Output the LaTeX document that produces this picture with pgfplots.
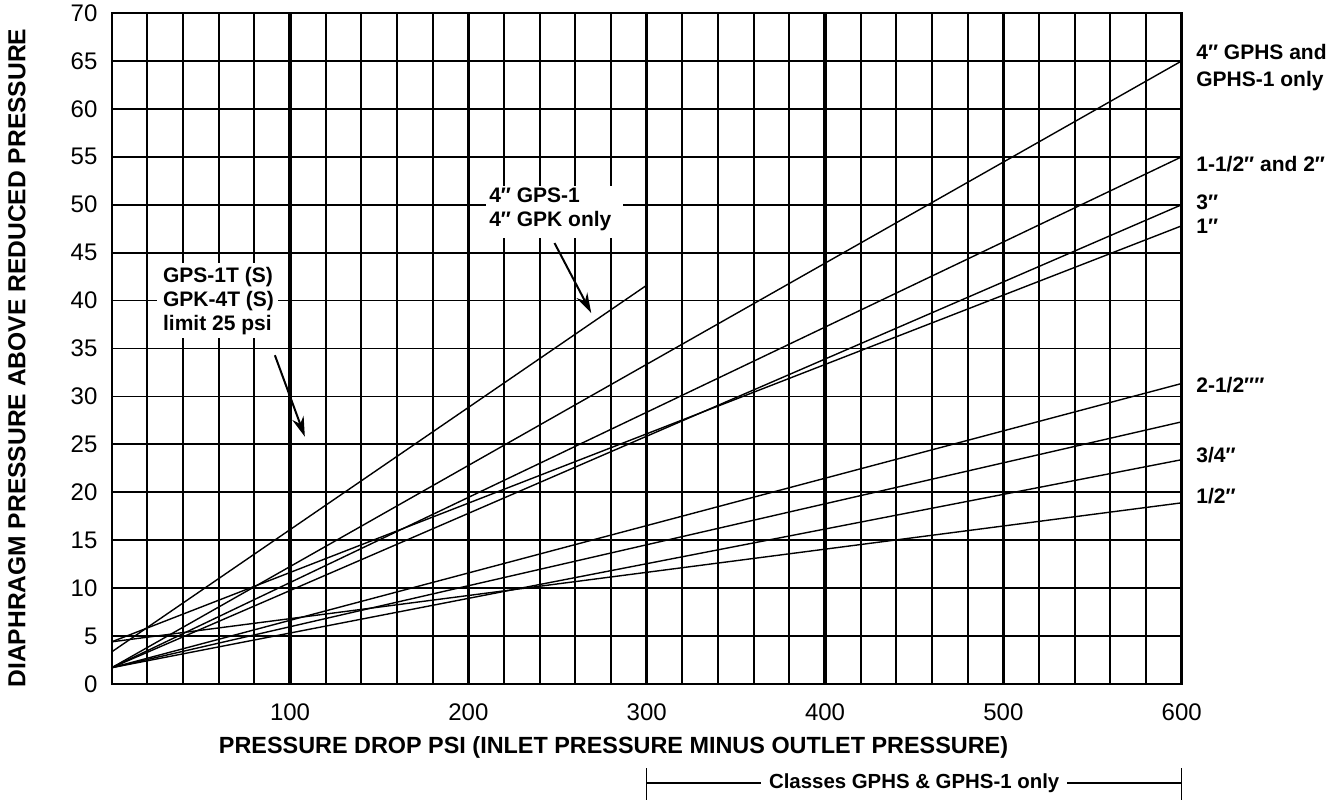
\documentclass[border=0pt]{standalone}
\usepackage{fontspec}
\setmainfont{Liberation Sans}
\usepackage{pgfplots}
\pgfplotsset{compat=1.18}
\usetikzlibrary{arrows.meta}
\newcommand{\tickfont}{\fontsize{12}{14}\selectfont}
\newcommand{\labfont}{\fontsize{10.5}{13.7}\selectfont\bfseries}
\newcommand{\annfont}{\fontsize{10.5}{12}\selectfont\bfseries}
\begin{document}
\begin{tikzpicture}
\begin{axis}[
  scale only axis,
  width=535pt, height=335.5pt,
  xmin=0, xmax=600, ymin=0, ymax=70,
  xtick={100,200,...,600},
  minor xtick={20,40,...,580},
  ytick={0,5,...,70},
  major tick length=0pt, minor tick length=0pt,
  xmajorgrids, xminorgrids, ymajorgrids,
  grid style={line width=0.9pt, black},
  major x grid style={line width=1.7pt, black},
  axis line style={line width=0.9pt},
  /pgf/number format/assume math mode=true,
  xticklabel style={font=\tickfont, yshift=-6.4pt},
  yticklabel style={font=\tickfont, xshift=-3.6pt},
  clip=false,
]
% lines
\addplot[black, line width=0.7pt] coordinates {(0,1.7) (600,65)};
\addplot[black, line width=0.7pt] coordinates {(0,1.7) (600,55)};
\addplot[black, line width=0.7pt] coordinates {(0,1.7) (600,50)};
\addplot[black, line width=0.7pt] coordinates {(0,4.4) (600,47.8)};
\addplot[black, line width=0.7pt] coordinates {(0,1.7) (600,31.35)};
\addplot[black, line width=0.7pt] coordinates {(0,1.7) (600,27.35)};
\addplot[black, line width=0.7pt] coordinates {(0,1.7) (600,23.4)};
\addplot[black, line width=0.7pt] coordinates {(0,4.4) (600,18.9)};
\addplot[black, line width=0.7pt] coordinates {(0,3.35) (300,41.6)};

% right labels
\node[anchor=west, align=left, font=\labfont, inner sep=0pt] at (axis cs:608,64.3) {4″ GPHS and\\GPHS-1 only};
\node[anchor=west, font=\labfont, inner sep=0pt] at (axis cs:608,54.2) {1-1/2″ and 2″};
\node[anchor=west, font=\labfont, inner sep=0pt] at (axis cs:608,50.3) {3″};
\node[anchor=west, font=\labfont, inner sep=0pt] at (axis cs:608,47.7) {1″};
\node[anchor=west, font=\labfont, inner sep=0pt] at (axis cs:608,31.2) {2-1/2″″};
\node[anchor=west, font=\labfont, inner sep=0pt] at (axis cs:608,23.9) {3/4″};
\node[anchor=west, font=\labfont, inner sep=0pt] at (axis cs:608,19.6) {1/2″};

% annotation boxes
\fill[white] (axis cs:210,46.5) rectangle (axis cs:286.6,52);
\node[anchor=west, align=left, font=\annfont, inner sep=0pt] at (axis cs:211.5,49.5) {4″ GPS-1\\4″ GPK only};
\draw[line width=1pt, -{Stealth[length=10pt, width=6pt]}] (axis cs:248.3,46.0) -- (axis cs:268.9,38.7);

\fill[white] (axis cs:25.2,36.1) rectangle (axis cs:93.2,43.9);
\node[anchor=west, align=left, font=\annfont, inner sep=0pt] at (axis cs:28.6,40.0) {GPS-1T (S)\\GPK-4T (S)\\limit 25 psi};
\draw[line width=1pt, -{Stealth[length=10pt, width=6pt]}] (axis cs:91.5,34.3) -- (axis cs:108.3,25.8);

% axis labels
\node[font=\fontsize{11.7}{14}\selectfont\bfseries] at ([yshift=-31.5pt]axis cs:281.4,0) {PRESSURE DROP PSI (INLET PRESSURE MINUS OUTLET PRESSURE)};
\node[rotate=90, font=\fontsize{12.3}{14}\selectfont\bfseries] at ([xshift=-47.35pt]axis cs:0,34) {DIAPHRAGM PRESSURE ABOVE REDUCED PRESSURE};

% bracket
\draw[line width=0.6pt] ([yshift=-42pt]axis cs:300,0) -- ([yshift=-58pt]axis cs:300,0);
\draw[line width=0.6pt] ([yshift=-42pt]axis cs:600,0) -- ([yshift=-58pt]axis cs:600,0);
\draw[line width=0.6pt] ([yshift=-49.5pt]axis cs:300,0) -- ([yshift=-49.5pt]axis cs:600,0);
\node[fill=white, inner xsep=4pt, inner ysep=1pt, font=\fontsize{10.2}{12}\selectfont\bfseries] at ([yshift=-49.5pt]axis cs:450,0) {Classes GPHS \& GPHS-1 only};
\end{axis}
\pgfresetboundingbox
\path[use as bounding box] ([xshift=-55.85pt,yshift=-61.5pt]current axis.south west) rectangle ([xshift=79.15pt,yshift=6.5pt]current axis.north east);
\end{tikzpicture}
\end{document}
